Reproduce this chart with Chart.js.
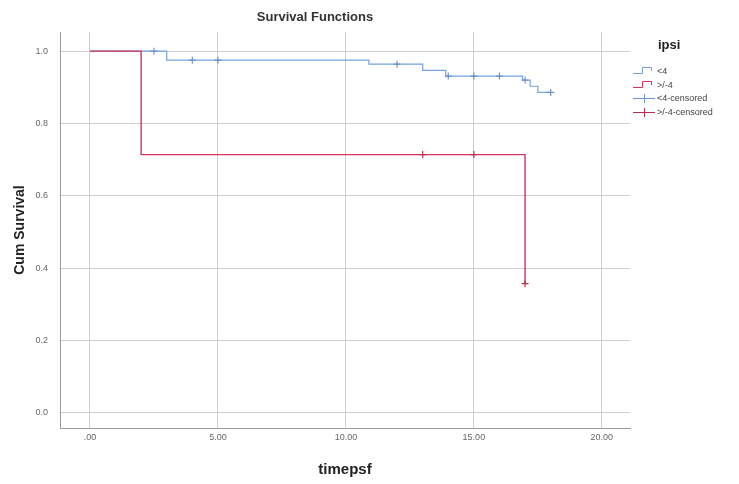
<!DOCTYPE html>
<html>
<head>
<meta charset="utf-8">
<title>Survival Functions</title>
<script src="https://cdn.jsdelivr.net/npm/chart.js@4.4.1/dist/chart.umd.min.js"></script>
<style>
    html, body { margin: 0; padding: 0; background: #fff; }
    #survChart { display: block; }
</style>
</head>
<body>
<canvas id="survChart" width="739" height="484"></canvas>
<script>
// group "<4"
const lowTimes = [0, 3, 10.9, 13, 13.9, 16.9, 17.2, 17.5, 18];
const lowSurv = [1, 0.975, 0.964, 0.947, 0.931, 0.92, 0.903, 0.886, 0.886];
const lowCensorTimes = [2.5, 4, 5, 12, 14, 15, 16, 17, 18];
const lowCensorSurv = [1, 0.975, 0.975, 0.964, 0.931, 0.931, 0.931, 0.92, 0.886];

// group ">/-4"
const highTimes = [0, 2, 17];
const highSurv = [1, 0.714, 0.357];
const highCensorTimes = [13, 15, 17];
const highCensorSurv = [0.714, 0.714, 0.357];

const groupLabels = ['<4', '>/-4', '<4-censored', '>/-4-censored'];
const xTicks = [0, 5, 10, 15, 20];
const xTickLabels = ['.00', '5.00', '10.00', '15.00', '20.00'];
const yTicks = [0, 0.2, 0.4, 0.6, 0.8, 1.0];
const yTickLabels = ['0.0', '0.2', '0.4', '0.6', '0.8', '1.0'];

const BLUE = '#73a3dc';
const RED = '#d6335d';
const FONT = 'Arial, "Liberation Sans", sans-serif';

const toPoints = (xs, ys) => xs.map((x, i) => ({ x: x, y: ys[i] }));

// legend drawn by hand so the step icons look like SPSS
const spssLegend = {
    id: 'spssLegend',
    afterDraw(chart) {
        const ctx = chart.ctx;
        const ds = chart.data.datasets;
        ctx.save();
        ctx.fillStyle = '#222';
        ctx.font = 'bold 13px ' + FONT;
        ctx.textAlign = 'left';
        ctx.textBaseline = 'middle';
        ctx.fillText('ipsi', 658, 45);

        ctx.font = '9px ' + FONT;
        const rows = [71, 85, 98, 112];
        ds.forEach((d, i) => {
            const y = rows[i];
            ctx.strokeStyle = d.borderColor;
            ctx.lineWidth = 1;
            ctx.beginPath();
            if (i < 2) {
                ctx.moveTo(633, y + 2.5);
                ctx.lineTo(642.5, y + 2.5);
                ctx.lineTo(642.5, y - 3.5);
                ctx.lineTo(651.5, y - 3.5);
                ctx.lineTo(651.5, y);
            } else {
                ctx.moveTo(633, y + 0.5);
                ctx.lineTo(655, y + 0.5);
                ctx.moveTo(644.5, y - 4);
                ctx.lineTo(644.5, y + 5);
            }
            ctx.stroke();
            ctx.fillStyle = '#444';
            ctx.fillText(d.label, 657, y + 1);
        });
        ctx.restore();
    }
};

new Chart(document.getElementById('survChart'), {
    type: 'scatter',
    data: {
        datasets: [{
            label: groupLabels[0],
            data: toPoints(lowTimes, lowSurv),
            showLine: true,
            stepped: true,
            borderColor: BLUE,
            borderWidth: 1.2,
            pointRadius: 0,
            order: 2
        }, {
            label: groupLabels[1],
            data: toPoints(highTimes, highSurv),
            showLine: true,
            stepped: true,
            borderColor: RED,
            borderWidth: 1.4,
            pointRadius: 0,
            order: 1
        }, {
            label: groupLabels[2],
            data: toPoints(lowCensorTimes, lowCensorSurv),
            showLine: false,
            pointStyle: 'cross',
            pointRadius: 3.5,
            borderColor: '#6f93c4',
            borderWidth: 1.2,
            order: 0
        }, {
            label: groupLabels[3],
            data: toPoints(highCensorTimes, highCensorSurv),
            showLine: false,
            pointStyle: 'cross',
            pointRadius: 3.5,
            borderColor: '#b8304f',
            borderWidth: 1.2,
            order: 0
        }]
    },
    options: {
        responsive: false,
        animation: false,
        layout: { padding: { left: 0, right: 109, top: 0, bottom: 0 } },
        plugins: {
            legend: { display: false },
            tooltip: { enabled: false },
            title: {
                display: true,
                text: 'Survival Functions',
                color: '#333',
                font: { family: FONT, size: 13, weight: 'bold' },
                padding: { top: 10, bottom: 6.4 }
            }
        },
        scales: {
            x: {
                type: 'linear',
                min: -1.17,
                max: 21.1,
                afterBuildTicks: s => { s.ticks = xTicks.map(v => ({ value: v })); },
                afterFit: s => { s.height = 56; },
                ticks: {
                    color: '#666',
                    font: { family: FONT, size: 9 },
                    padding: 4,
                    maxRotation: 0,
                    callback: (v, i) => xTickLabels[i]
                },
                grid: { color: '#cfcfcf', drawTicks: false },
                border: { color: '#9a9a9a' },
                title: {
                    display: true,
                    text: 'timepsf',
                    color: '#222',
                    font: { family: FONT, size: 15, weight: 'bold' },
                    padding: { top: 0, bottom: 5 }
                }
            },
            y: {
                type: 'linear',
                min: -0.042,
                max: 1.053,
                afterBuildTicks: s => { s.ticks = yTicks.map(v => ({ value: v })); },
                afterFit: s => { s.width = 60; },
                ticks: {
                    color: '#666',
                    font: { family: FONT, size: 9 },
                    padding: 12,
                    callback: (v, i) => yTickLabels[i]
                },
                grid: { color: '#cfcfcf', drawTicks: false },
                border: { color: '#9a9a9a' },
                title: {
                    display: true,
                    text: 'Cum Survival',
                    color: '#222',
                    font: { family: FONT, size: 14, weight: 'bold' },
                    padding: { top: 12, bottom: 0 }
                }
            }
        }
    },
    plugins: [spssLegend]
});
</script>
</body>
</html>
